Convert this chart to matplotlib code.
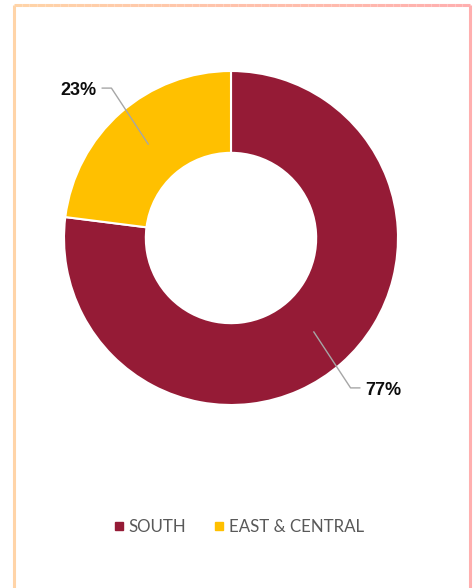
import numpy as np
import matplotlib
matplotlib.use("Agg")
import matplotlib.pyplot as plt
from matplotlib.colors import LinearSegmentedColormap
from matplotlib.collections import LineCollection
from matplotlib.lines import Line2D

plt.rcParams["font.family"] = ["Lato", "DejaVu Sans"]

regions = ["SOUTH", "EAST & CENTRAL"]
shares = [77, 23]
colors = ["#951B36", "#FFC000"]

W, H = 476, 588
fig = plt.figure(figsize=(W / 100, H / 100), dpi=100)

# donut: centre (231, 238) px, outer radius 167 px
cx, cy, r = 231, 238, 167
ax = fig.add_axes([(cx - r) / W, 1 - (cy + r) / H, 2 * r / W, 2 * r / H])
wedges, _ = ax.pie(shares, colors=colors, startangle=90, counterclock=False,
                   radius=1, wedgeprops=dict(width=0.49, edgecolor="white", linewidth=1.5))
ax.set_xlim(-1, 1)
ax.set_ylim(-1, 1)
ax.set_aspect("equal")
ax.axis("off")

# leader lines + labels
for w, s in zip(wedges, shares):
    mid = np.deg2rad((w.theta1 + w.theta2) / 2)
    x0, y0 = 0.75 * np.cos(mid), 0.75 * np.sin(mid)
    sx, sy = np.sign(np.cos(mid)), np.sign(np.sin(mid))
    x1, y1 = x0 + sx * 0.22, y0 + sy * 0.335
    x2 = x1 + sx * 0.055
    ax.plot([x0, x1, x2], [y0, y1, y1], color="#A6A6A6", lw=1, clip_on=False)
    ax.text(x2 + sx * 0.035, y1 - 0.013, f"{s}%", ha="left" if sx > 0 else "right",
            va="center", fontsize=13, fontweight="bold", color="#0D0D0D",
            family=["Liberation Sans", "DejaVu Sans"])

# legend
handles = [Line2D([], [], marker="s", ls="", color=c, markersize=5.5) for c in colors]
fig.legend(handles, regions, loc="center", bbox_to_anchor=(0.498, 1 - 527 / H), ncol=2,
           frameon=False, fontsize=12.2, labelcolor="#595959", handletextpad=0.05,
           columnspacing=1.5, handlelength=1.0)

# chart border (peach -> pink)
bax = fig.add_axes([0, 0, 1, 1])
bax.set_xlim(0, W)
bax.set_ylim(H, 0)
bax.axis("off")
cmap = LinearSegmentedColormap.from_list("b", ["#FFD4A8", "#FFAFAF"])
xs = np.linspace(14, 470, 60)
segs = [[(xs[i], 5), (xs[i + 1], 5)] for i in range(len(xs) - 1)]
bax.add_collection(LineCollection(segs, colors=cmap(np.linspace(0, 1, len(segs))), lw=2.2))
bax.plot([14, 14], [5, H + 2], color="#FFD4A8", lw=2.2, solid_capstyle="butt")
bax.plot([470, 470], [5, H + 2], color="#FFAFAF", lw=2.2, solid_capstyle="butt")

fig.savefig("out.png", dpi=100)
